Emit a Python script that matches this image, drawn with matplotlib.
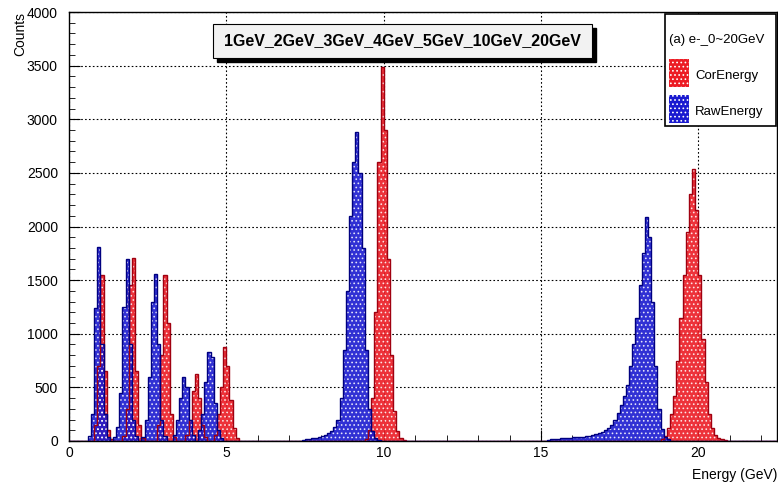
import numpy as np
import matplotlib.pyplot as plt
from matplotlib.patches import Rectangle
from matplotlib.ticker import MultipleLocator

plt.rcParams['font.family'] = ['Liberation Sans', 'DejaVu Sans']
plt.rcParams['hatch.linewidth'] = 0.7

# histogram binning (GeV)
bin_width = 0.1
x_max = 22.5

# CorEnergy peaks: low edge of first bin, counts per bin
cor_starts = [0.8, 1.7, 2.8, 3.7, 4.6, 9.4, 18.8]
cor_1gev = [150, 700, 1550, 650, 100, 20]
cor_2gev = [50, 300, 1450, 1710, 650, 150, 30]
cor_3gev = [150, 800, 1550, 1100, 250, 40]
cor_4gev = [60, 200, 470, 625, 400, 150, 40]
cor_5gev = [60, 250, 500, 880, 700, 380, 120, 30]
cor_10gev = [20, 100, 400, 1200, 2600, 3490, 2900, 1700, 800, 280, 90, 30, 10]
cor_20gev = [20, 50, 120, 250, 420, 750, 1150, 1550, 1950, 2300, 2540, 2150,
             1550, 950, 550, 250, 120, 60, 30, 15, 5]

# RawEnergy peaks
raw_starts = [0.6, 1.4, 2.3, 3.3, 4.1, 7.4, 15.2]
raw_1gev = [50, 250, 1240, 1810, 900, 250, 40]
raw_2gev = [40, 130, 450, 1250, 1700, 900, 200, 50]
raw_3gev = [40, 200, 600, 1300, 1560, 900, 200, 50]
raw_4gev = [60, 200, 400, 600, 500, 200, 60]
raw_5gev = [100, 250, 550, 830, 780, 350, 100, 30]
raw_10gev = [10, 15, 20, 25, 30, 40, 45, 55, 70, 90, 130, 200, 400, 850, 1400,
             2100, 2600, 2880, 2500, 1800, 850, 300, 90, 30, 10]
raw_20gev = [10, 15, 20, 20, 25, 25, 30, 30, 35, 35, 40, 40, 45, 50, 55, 65, 75,
             85, 100, 120, 150, 200, 260, 340, 420, 520, 700, 900, 1150, 1450,
             1750, 2090, 1900, 1300, 700, 300, 110, 40, 15]

title = "1GeV_2GeV_3GeV_4GeV_5GeV_10GeV_20GeV"
legend_header = "(a) e-_0~20GeV"

n_bins = int(round(x_max / bin_width))
edges = np.linspace(0, x_max, n_bins + 1)


def build(starts, segments):
    counts = np.zeros(n_bins)
    for s, seg in zip(starts, segments):
        i = int(round(s / bin_width))
        counts[i:i + len(seg)] += seg
    return counts


cor = build(cor_starts, [cor_1gev, cor_2gev, cor_3gev, cor_4gev, cor_5gev, cor_10gev, cor_20gev])
raw = build(raw_starts, [raw_1gev, raw_2gev, raw_3gev, raw_4gev, raw_5gev, raw_10gev, raw_20gev])

red = '#ec1c24'
blue = '#1a1ad0'

fig = plt.figure(figsize=(7.78, 4.83), dpi=100)
ax = fig.add_axes([69 / 778, 1 - 441 / 483, 708 / 778, 429 / 483])

for counts, fc, ec in [(cor, red, '#a00010'), (raw, blue, '#000080')]:
    ax.stairs(counts, edges, fill=True, facecolor=fc, alpha=0.9, linewidth=0, zorder=2)
    ax.stairs(counts, edges, fill=True, facecolor='none', edgecolor='white',
              hatch='....', linewidth=0, alpha=0.8, zorder=3)
    ax.stairs(counts, edges, color=ec, linewidth=1.0, zorder=4)

ax.set_xlim(0, x_max)
ax.set_ylim(0, 4000)
ax.xaxis.set_major_locator(MultipleLocator(5))
ax.xaxis.set_minor_locator(MultipleLocator(1))
ax.yaxis.set_major_locator(MultipleLocator(500))
ax.yaxis.set_minor_locator(MultipleLocator(100))
ax.tick_params(which='both', direction='in', top=False, right=False, labelsize=10)
ax.tick_params(axis='y', which='major', pad=8)
ax.tick_params(which='major', length=8)
ax.tick_params(which='minor', length=4)
ax.grid(True, which='major', color='black', linestyle=(0, (1.5, 2)), linewidth=0.8, zorder=1)
ax.set_axisbelow(True)
for sp in ax.spines.values():
    sp.set_linewidth(1.0)

ax.set_ylabel('Counts', loc='top', fontsize=10, labelpad=0)
ax.set_xlabel('Energy (GeV)', loc='right', fontsize=10, labelpad=6)


def px(x, y, w, h):
    return (x / 778, 1 - (y + h) / 483, w / 778, h / 483)


# title box with shadow
bx, by, bw, bh = px(213, 24, 379, 34)
sx, sy, _, _ = px(217, 28, 379, 34)
fig.add_artist(Rectangle((sx, sy), bw, bh, transform=fig.transFigure,
                         facecolor='black', edgecolor='black', zorder=10))
fig.add_artist(Rectangle((bx, by), bw, bh, transform=fig.transFigure,
                         facecolor='#f2f2f2', edgecolor='black', linewidth=0.8, zorder=11))
fig.text(bx + bw / 2, by + bh / 2, title, ha='center', va='center',
         fontsize=11.5, fontweight='bold', zorder=12)

# legend box
lx, ly, lw_, lh = px(665, 14, 111, 112)
fig.add_artist(Rectangle((lx, ly), lw_, lh, transform=fig.transFigure,
                         facecolor='white', edgecolor='black', linewidth=1.2, zorder=10))
fig.text(669 / 778, 1 - 40 / 483, legend_header, ha='left', va='center', fontsize=9.5, zorder=12)
for label, fc, ec, yc in [('CorEnergy', red, '#a00010', 73), ('RawEnergy', blue, '#000080', 109)]:
    sx, sy, sw, sh = px(669, yc - 14, 20, 28)
    fig.add_artist(Rectangle((sx, sy), sw, sh, transform=fig.transFigure,
                             facecolor=fc, edgecolor='white', hatch='....', linewidth=0, zorder=11))
    fig.text(695 / 778, 1 - (yc + 3) / 483, label, ha='left', va='center', fontsize=9.5, zorder=12)

fig.savefig('out.png', dpi=100)
